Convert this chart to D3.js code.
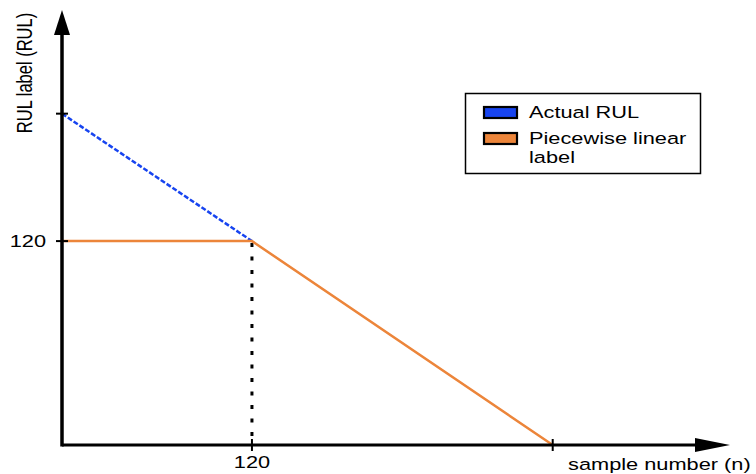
<!DOCTYPE html>
<html>
<head>
<meta charset="utf-8">
<script src="https://cdn.jsdelivr.net/npm/d3@7"></script>
<style>
  html, body { margin: 0; padding: 0; background: #fff; }
  svg { display: block; }
  text { font-family: "Liberation Sans", Arial, Helvetica, sans-serif; fill: #000; }
</style>
</head>
<body>
<svg id="chart" width="756" height="474"></svg>
<script>
// Schematic of RUL labelling: actual RUL vs. piecewise linear label
const actualRUL = [[0, 195], [120, 120]];
const piecewiseLabel = [[0, 120], [120, 120], [310, 0]];
const xTickValues = [120, 310];
const xTickLabels = ["120", ""];
const yTickValues = [195, 120];
const yTickLabels = ["", "120"];
const legendNames = ["Actual RUL", "Piecewise linear\nlabel"];
const legendColors = ["#1744f0", "#ec853a"];
const xMax = 422, yMax = 256;

const svg = d3.select("#chart");
const stretch = 1.32; // wide glyphs
const fontSize = 16.5;

const x = d3.scaleLinear().domain([0, xMax]).range([62, 730]);
const y = d3.scaleLinear().domain([0, yMax]).range([445, 10]);

const line = d3.line().x(d => x(d[0])).y(d => y(d[1]));

// dotted drop line at the knee
svg.append("line")
  .attr("x1", x(120)).attr("x2", x(120))
  .attr("y1", y(120) + 2).attr("y2", y(0))
  .attr("stroke", "#000").attr("stroke-width", 3)
  .attr("stroke-dasharray", "4,9.5");

// actual RUL (dashed)
svg.append("path").datum(actualRUL)
  .attr("d", line).attr("fill", "none")
  .attr("stroke", legendColors[0]).attr("stroke-width", 2.5)
  .attr("stroke-dasharray", "5,2");

// piecewise linear label
svg.append("path").datum(piecewiseLabel)
  .attr("d", line).attr("fill", "none")
  .attr("stroke", legendColors[1]).attr("stroke-width", 2.5);

// axes with arrowheads
svg.append("line").attr("x1", x(0)).attr("x2", x(xMax) - 20)
  .attr("y1", y(0)).attr("y2", y(0))
  .attr("stroke", "#000").attr("stroke-width", 3);
svg.append("line").attr("x1", x(0)).attr("x2", x(0))
  .attr("y1", y(0) + 1.5).attr("y2", y(yMax) + 20)
  .attr("stroke", "#000").attr("stroke-width", 3.5);
svg.append("path")
  .attr("d", `M${x(xMax)},${y(0)} L${x(xMax) - 35},${y(0) - 7} L${x(xMax) - 35},${y(0) + 7} Z`)
  .attr("fill", "#000");
svg.append("path")
  .attr("d", `M${x(0)},${y(yMax)} L${x(0) - 8},${y(yMax) + 25} L${x(0) + 8},${y(yMax) + 25} Z`)
  .attr("fill", "#000");

// ticks
xTickValues.forEach((v, i) => {
  svg.append("line").attr("x1", x(v)).attr("x2", x(v))
    .attr("y1", y(0) - 6).attr("y2", y(0) + 6)
    .attr("stroke", "#000").attr("stroke-width", 2);
  if (xTickLabels[i]) {
    svg.append("text")
      .attr("transform", `translate(${x(v)},468) scale(${stretch},1)`)
      .attr("text-anchor", "middle").attr("font-size", fontSize)
      .text(xTickLabels[i]);
  }
});
yTickValues.forEach((v, i) => {
  svg.append("line").attr("x1", x(0) - 6).attr("x2", x(0) + 6)
    .attr("y1", y(v)).attr("y2", y(v))
    .attr("stroke", "#000").attr("stroke-width", 2);
  if (yTickLabels[i]) {
    svg.append("text")
      .attr("transform", `translate(46,${y(v) + 6}) scale(${stretch},1)`)
      .attr("text-anchor", "end").attr("font-size", fontSize)
      .text(yTickLabels[i]);
  }
});

// axis titles
svg.append("text")
  .attr("transform", `translate(568,470) scale(${stretch},1)`)
  .attr("font-size", fontSize)
  .text("sample number (n)");
svg.append("text")
  .attr("transform", `translate(32,73) rotate(-90) scale(1,${stretch})`)
  .attr("text-anchor", "middle").attr("font-size", fontSize)
  .text("RUL label (RUL)");

// legend
const lg = svg.append("g");
lg.append("rect").attr("x", 465.5).attr("y", 93.5).attr("width", 235).attr("height", 80)
  .attr("fill", "#fff").attr("stroke", "#000").attr("stroke-width", 1.5);
const rowY = [106, 132];
legendNames.forEach((name, i) => {
  lg.append("rect").attr("x", 484).attr("y", rowY[i] + 1)
    .attr("width", 33).attr("height", 11)
    .attr("fill", legendColors[i]).attr("stroke", "#000").attr("stroke-width", 2.2);
  name.split("\n").forEach((ln, j) => {
    lg.append("text")
      .attr("transform", `translate(529,${rowY[i] + 12 + j * 19}) scale(${stretch},1)`)
      .attr("font-size", fontSize)
      .text(ln);
  });
});
</script>
</body>
</html>
